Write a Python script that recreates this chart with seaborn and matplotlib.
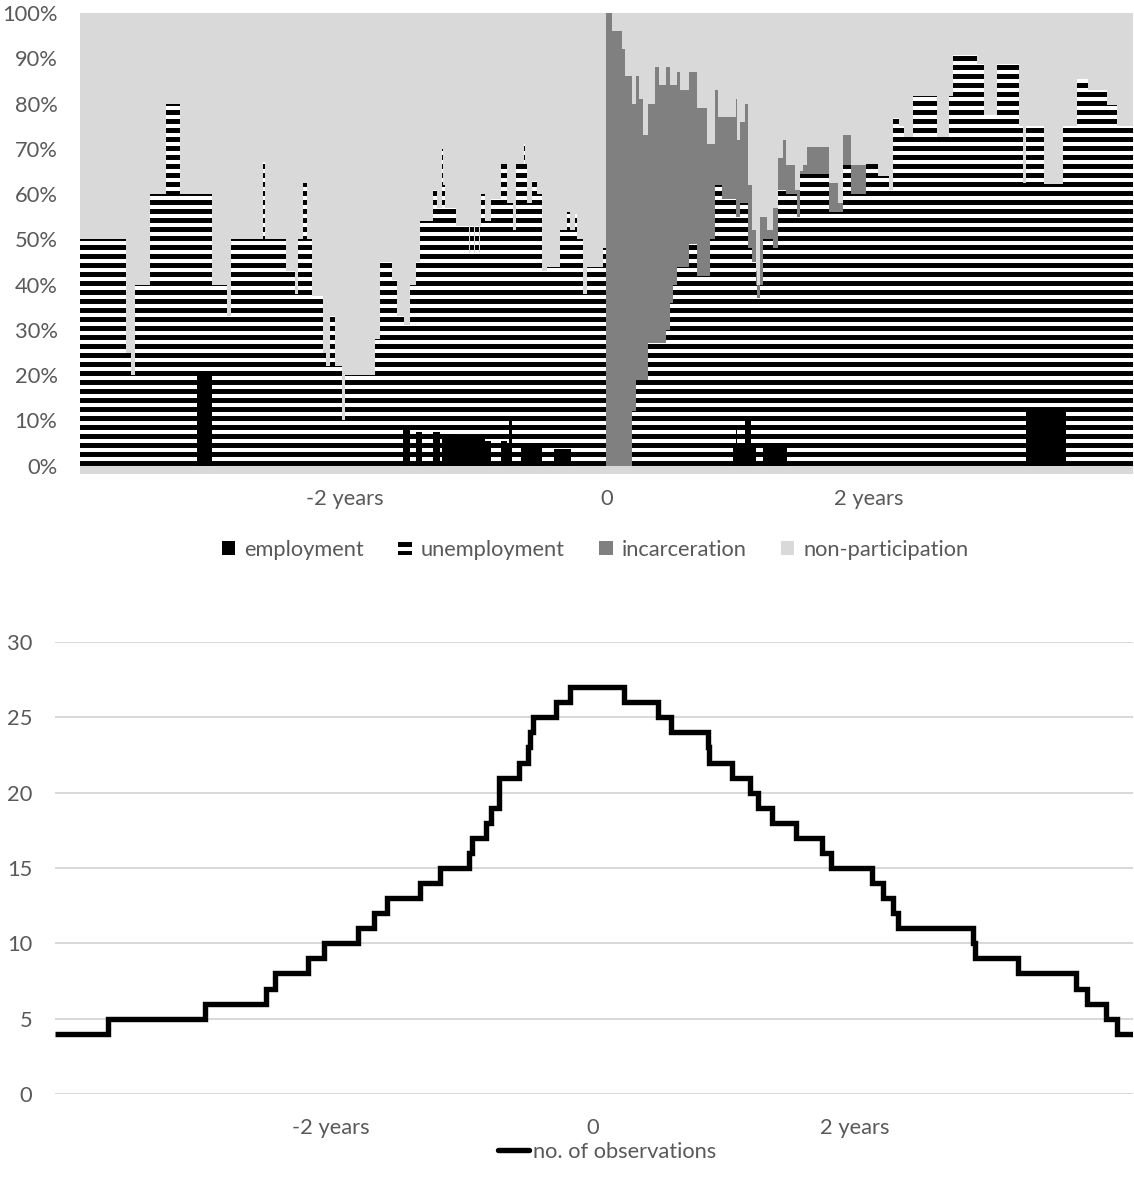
import numpy as np
import matplotlib
matplotlib.use("Agg")
import matplotlib.pyplot as plt
from matplotlib.patches import Patch
from matplotlib.lines import Line2D
from matplotlib.ticker import FuncFormatter
import seaborn as sns

# ---------------- data ----------------
# top chart: start of each step (years relative to event) and shares in percent
time_yr = [-4.023, -3.672, -3.634, -3.603, -3.489, -3.366, -3.260, -3.130, -3.015, -2.901,
           -2.870, -2.626, -2.611, -2.450, -2.382, -2.359, -2.321, -2.290, -2.252, -2.168,
           -2.145, -2.115, -2.076, -2.023, -2.000, -1.771, -1.733, -1.641, -1.603, -1.557,
           -1.550, -1.504, -1.458, -1.427, -1.412, -1.328, -1.298, -1.275, -1.260, -1.252,
           -1.237, -1.153, -1.053, -1.046, -1.015, -1.008, -0.977, -0.969, -0.962, -0.931,
           -0.885, -0.809, -0.763, -0.748, -0.725, -0.718, -0.695, -0.656, -0.634, -0.626,
           -0.611, -0.573, -0.534, -0.496, -0.458, -0.405, -0.359, -0.305, -0.282, -0.275,
           -0.244, -0.229, -0.183, -0.153, -0.031, -0.008, 0.038, 0.115, 0.137, 0.191,
           0.221, 0.244, 0.275, 0.313, 0.366, 0.397, 0.450, 0.481, 0.504, 0.534,
           0.557, 0.626, 0.687, 0.763, 0.786, 0.824, 0.847, 0.878, 0.962, 0.985,
           0.992, 1.015, 1.053, 1.076, 1.099, 1.107, 1.137, 1.145, 1.168, 1.191,
           1.221, 1.267, 1.305, 1.344, 1.366, 1.374, 1.435, 1.450, 1.473, 1.496,
           1.527, 1.695, 1.763, 1.802, 1.863, 1.977, 2.069, 2.153, 2.183, 2.229,
           2.267, 2.336, 2.519, 2.611, 2.641, 2.824, 2.878, 2.977, 3.145, 3.176,
           3.198, 3.336, 3.481, 3.504, 3.588, 3.672, 3.817, 3.893]
time_end = 4.015

employment = [0, 0, 0, 0, 0, 0, 0, 20, 0, 0,
              0, 0, 0, 0, 0, 0, 0, 0, 0, 0,
              0, 0, 0, 0, 0, 0, 0, 0, 0, 8,
              8, 0, 7.5, 7.5, 0, 7.5, 7.5, 0, 7, 7,
              7, 6.7, 6.5, 6.5, 6.5, 6.5, 6.5, 6.5, 6.5, 5.5,
              0, 5.5, 5, 10, 0, 0, 0, 4.8, 4.8, 4.8,
              4.8, 4.5, 4.5, 0, 0, 3.8, 3.8, 3.8, 3.8, 0,
              0, 0, 0, 0, 0, 0, 0, 0, 0, 0,
              0, 0, 0, 0, 0, 0, 0, 0, 0, 0,
              0, 0, 0, 0, 0, 0, 0, 0, 4.2, 9,
              4.2, 4.2, 10, 10, 4.2, 4.2, 0, 0, 0, 5,
              5, 5, 5, 5, 5, 0, 0, 0, 0, 0,
              0, 0, 0, 0, 0, 0, 0, 0, 0, 0,
              0, 0, 0, 0, 0, 0, 0, 0, 0, 0,
              12.2, 12.2, 12.2, 0, 0, 0, 0, 0]

unemployment = [50, 25, 20, 40, 60, 80, 60, 40, 40, 33,
                50, 67, 50, 43, 38, 50, 62.5, 50, 37.5, 25,
                22, 33, 22, 10, 20, 28, 45, 41, 33, 25,
                23, 40, 37.5, 46.5, 54, 53.5, 49.5, 57, 63, 55,
                50, 46.3, 40.5, 46.5, 40.5, 46.5, 40.5, 46.5, 53.5, 48.5,
                59, 61.2, 53, 48, 58, 52, 66.7, 61.9, 66.2, 61.9,
                53.2, 58.5, 55.5, 43, 44, 40.2, 48.2, 52.2, 48.2, 52,
                55.6, 50, 38, 44, 48, 0, 0, 0, 0, 12,
                19, 19, 19, 27, 27, 27, 30, 36, 40, 44,
                44, 49, 42, 42, 50, 62, 62, 59, 54.8, 46,
                50.8, 53.8, 48, 38, 43.8, 40.8, 40, 37, 40, 45,
                45, 43, 56, 56, 55, 60, 60, 55, 64.5, 64.5,
                64.5, 56, 56, 66.5, 60, 66.7, 64, 61, 76.8, 75,
                72.7, 81.6, 72.7, 81.6, 90.8, 88.7, 77.5, 88.7, 75, 62.5,
                62.8, 50, 62.8, 75, 85.5, 83, 79.7, 75]

incarceration = [0] * 75 + [
                100, 96, 92, 86, 68,
                67, 62, 54, 53, 61, 57, 58, 48, 44, 43,
                39, 38, 37, 29, 21, 21, 15, 18, 18, 26,
                17, 18, 22, 14, 14, 7, 3, 3, 15, 5,
                2, 9, 7, 11, 6.5, 6.5, 1, 6, 0.5, 2,
                6, 6.5, 2, 6.5, 6.5] + [0] * 23

categories = ["employment", "unemployment", "incarceration", "non-participation"]

# bottom chart: number of observations (step starts in years)
obs_time_yr = [-4.107, -3.702, -2.962, -2.496, -2.427, -2.179, -2.057, -1.794, -1.672, -1.573,
               -1.321, -1.168, -0.947, -0.927, -0.817, -0.782, -0.721, -0.565, -0.496, -0.481,
               -0.458, -0.282, -0.176, 0.237, 0.496, 0.595, 0.878, 0.889, 1.061, 1.198,
               1.260, 1.370, 1.550, 1.748, 1.817, 2.130, 2.214, 2.287, 2.328, 2.901,
               2.916, 3.244, 3.687, 3.771, 3.916, 4.000]
obs_count = [4, 5, 6, 7, 8, 9, 10, 11, 12, 13,
             14, 15, 16, 17, 18, 19, 21, 22, 23, 24,
             25, 26, 27, 26, 25, 24, 23, 22, 21, 20,
             19, 18, 17, 16, 15, 14, 13, 12, 11, 10,
             9, 8, 7, 6, 5, 4]
obs_end = 4.122

x_ticks = [-2, 0, 2]
x_ticklabels = ["-2 years", "0", "2 years"]

# ---------------- style ----------------
DPI = 108
sns.set_theme(style="white")
plt.rcParams["font.family"] = ["Lato", "DejaVu Sans"]
plt.rcParams["hatch.linewidth"] = 3.3
plt.rcParams["hatch.color"] = "black"

TXT = "#595959"
LIGHT = "#d9d9d9"
MID = "#808080"
FS = 14.6

fig = plt.figure(figsize=(1134 / DPI, 1193 / DPI), dpi=DPI)
fig.patch.set_facecolor("white")

# ---------------- top chart ----------------
ax1 = fig.add_axes([80 / 1134, 719 / 1193, 1053 / 1134, 461 / 1193])
ax1.set_facecolor(LIGHT)

x = np.array(time_yr + [time_end])
E = np.array(employment + [employment[-1]]) / 100
U = np.array(unemployment + [unemployment[-1]]) / 100
I = np.array(incarceration + [incarceration[-1]]) / 100
c1 = E
c2 = E + U
c3 = E + U + I

ax1.fill_between(x, 0, 1, step="post", color=LIGHT, linewidth=0)
ax1.fill_between(x, c2, c3, step="post", color=MID, linewidth=0)
ax1.fill_between(x, c1, c2, step="post", facecolor="white", edgecolor="black",
                 hatch="--", linewidth=0)
ax1.fill_between(x, 0, c1, step="post", color="black", linewidth=0)

ax1.set_xlim(time_yr[0], time_end)
ax1.set_ylim(-0.0183, 1.0)
ax1.set_yticks(np.arange(0, 1.01, 0.1))
ax1.yaxis.set_major_formatter(FuncFormatter(lambda v, p: f"{v * 100:.0f}%"))
ax1.set_xticks(x_ticks)
ax1.set_xticklabels(x_ticklabels)
ax1.tick_params(axis="y", length=0, pad=15, labelsize=FS, labelcolor=TXT)
ax1.tick_params(axis="x", length=0, pad=10, labelsize=FS, labelcolor=TXT)
for s in ax1.spines.values():
    s.set_visible(False)
ax1.grid(False)

handles = [
    Patch(facecolor="black", edgecolor="black", linewidth=0, label=categories[0]),
    Patch(facecolor="white", edgecolor="black", hatch="--", linewidth=0, label=categories[1]),
    Patch(facecolor=MID, edgecolor=MID, linewidth=0, label=categories[2]),
    Patch(facecolor=LIGHT, edgecolor=LIGHT, linewidth=0, label=categories[3]),
]
fig.legend(handles=handles, loc="center", bbox_to_anchor=(595 / 1134, (1193 - 550) / 1193),
           ncol=4, frameon=False, fontsize=FS, labelcolor=TXT,
           handlelength=0.6, handleheight=0.6, handletextpad=0.4, columnspacing=1.6)

# ---------------- bottom chart ----------------
ax2 = fig.add_axes([55 / 1134, 99 / 1193, 1078 / 1134, 452 / 1193])
ax2.set_facecolor("white")
ox = obs_time_yr + [obs_end]
oy = obs_count + [obs_count[-1]]
sns.lineplot(x=ox, y=oy, ax=ax2, drawstyle="steps-post", color="black",
             linewidth=3.6, solid_joinstyle="miter", solid_capstyle="butt",
             label="no. of observations", legend=False, sort=False)
ax2.set_xlim(obs_time_yr[0], obs_end)
ax2.set_ylim(0, 30)
ax2.set_yticks(range(0, 31, 5))
ax2.set_xticks(x_ticks)
ax2.set_xticklabels(x_ticklabels)
ax2.yaxis.grid(True, color=LIGHT, linewidth=1.3)
ax2.xaxis.grid(False)
ax2.set_axisbelow(True)
ax2.tick_params(axis="y", length=0, pad=15, labelsize=FS, labelcolor=TXT)
ax2.tick_params(axis="x", length=0, pad=16, labelsize=FS, labelcolor=TXT)
for s in ax2.spines.values():
    s.set_visible(False)
ax2.set_xlabel("")
ax2.set_ylabel("")

fig.legend(handles=[Line2D([0], [0], color="black", linewidth=3.6, label="no. of observations")],
           loc="center", bbox_to_anchor=(607 / 1134, (1193 - 1152) / 1193),
           frameon=False, fontsize=FS, labelcolor=TXT, handlelength=1.4, handletextpad=0.2)

fig.savefig("out.png", dpi=DPI, facecolor="white")
